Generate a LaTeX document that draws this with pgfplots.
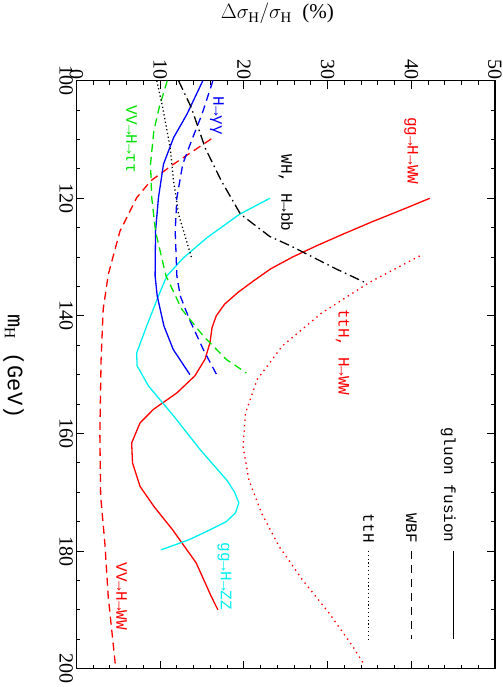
\documentclass[border=0pt]{standalone}
\usepackage{pgfplots}
\pgfplotsset{compat=1.18}
\usepackage{fontspec}
\setmainfont{Liberation Serif}
\newfontfamily\cour{Liberation Mono}
\definecolor{lgreen}{RGB}{0,225,0}
\definecolor{lcyan}{RGB}{0,240,240}
\tikzset{clab/.style={font=\cour\fontsize{16}{18}\selectfont, inner sep=0pt}}
\begin{document}
\rotatebox{-90}{%
\begin{tikzpicture}
\begin{axis}[
  width=587pt, height=418pt, scale only axis,
  xmin=100, xmax=200, ymin=0, ymax=50,
  xtick={100,120,...,200}, ytick={0,10,...,50},
  minor x tick num=3, minor y tick num=4,
  tick align=inside, xtick pos=both, ytick pos=both,
  xticklabel pos=lower, yticklabel pos=left,
  major tick length=8pt, minor tick length=4pt,
  every tick/.style={black, line width=0.9pt},
  axis line style={line width=1.3pt},
  ticklabel style={font=\fontsize{20}{22}\selectfont},
  /pgf/number format/assume math mode=true,
  yticklabel style={inner sep=1pt},
  xlabel={\cour m$_{\mathrm{H}}$ (GeV)},
  xlabel style={at={(axis description cs:0.486,-0.15)}, anchor=center, font=\fontsize{22}{24}\selectfont},
  ylabel={$\Delta\sigma_{\mathrm{H}}/\sigma_{\mathrm{H}}$~~(\%)},
  ylabel style={at={(axis description cs:-0.114,0.48)}, anchor=center, font=\fontsize{21}{24}\selectfont},
  every axis plot/.append style={line width=1.3pt},
]
% gg -> H -> WW
\addplot[red] coordinates {
 (120,42.2)(122,38.8)(124,35.3)(126,32)(128,28.8)(130,25.8)(132,23.2)(134,21.2)
 (136,19.3)(138,17.7)(140,16.7)(142,16.2)(144.6,15.95)(147.4,15.35)(150.2,14.15)
 (153.1,12.0)(155.9,9.2)(158.2,7.6)(161.6,6.6)(165,6.7)(169,7.6)(172.4,9.25)
 (176.4,11.5)(182,14.3)(187.7,16.1)(190,16.9)};
% ttH, H -> WW
\addplot[red, dash pattern=on 1.4pt off 4pt] coordinates {
 (129.8,41.0)(134.3,35.0)(139.5,29.3)(145.1,24.6)(150.8,21.6)(156.5,20.2)(162.2,19.9)
 (167.9,20.6)(173.5,22.1)(179.2,24.2)(184.9,27.0)(190.6,30.2)(196.2,33.0)(199.4,34.4)};
% VV -> H -> WW
\addplot[red, dash pattern=on 8pt off 5pt] coordinates {
 (109.9,16.1)(114.2,11.6)(117,8.9)(119.9,7.2)(125.6,5.2)(133,3.8)(138.9,3.2)(147.4,2.95)
 (160,2.8)(170.7,2.9)(178.7,3.4)(187.7,3.8)(200,4.7)};
% gg -> H -> ZZ
\addplot[lcyan] coordinates {
 (120,23.1)(122.7,19.5)(126.7,15.6)(130.1,12.8)(133.2,10.8)(136.6,9.8)(141.7,8.4)
 (146.3,7.2)(148.5,7.25)(151.9,8.6)(157,11.6)(162.7,14.75)(168,18.0)(170,18.9)
 (171.8,19.4)(173.5,19.0)(175,17.9)(176.5,15.8)(178.1,13.4)(179.8,10.1)};
% H -> gamma gamma (gluon fusion)
\addplot[blue] coordinates {
 (100,15.1)(105.7,13.2)(109.7,11.6)(114.2,10.4)(119.9,9.8)(125.6,9.45)(133.2,9.4)
 (136.6,9.65)(141.7,10.45)(145.7,11.56)(150,13.56)};
% H -> gamma gamma (WBF)
\addplot[blue, dash pattern=on 8pt off 5pt] coordinates {
 (100,16.3)(105.7,15.0)(110.2,13.75)(114.2,12.7)(119.9,12.0)(125.6,11.8)(133.2,12.0)
 (136.6,12.4)(140.6,13.5)(145.7,15.15)(150,16.75)};
% VV -> H -> tau tau
\addplot[lgreen, dash pattern=on 8pt off 5pt] coordinates {
 (100,10.85)(104.5,9.9)(108.5,9.25)(114.2,8.85)(119.9,9.0)(125.6,9.45)(133.2,10.7)
 (138.9,12.6)(143.4,15.15)(147.4,17.9)(149.7,20.3)};
% ttH, H -> bb
\addplot[black, dash pattern=on 1.2pt off 2.6pt] coordinates {
 (100,9.6)(104.5,10.3)(111.4,11.2)(117,11.6)(122.7,12.2)(130.1,13.75)};
% WH, H -> bb
\addplot[black, dash pattern=on 10pt off 4pt on 1.5pt off 4pt] coordinates {
 (100,12.2)(104.5,13.7)(111.5,15.4)(117,17.3)(122.7,19.6)(126.5,23.1)(128.1,25.6)
 (132,31.0)(134.4,34.6)};
% legend samples
\addplot[black] coordinates {(180,45.0)(195,45.0)};
\addplot[black, dash pattern=on 8pt off 6pt] coordinates {(180,40.0)(195,40.0)};
\addplot[black, dash pattern=on 1.2pt off 2.6pt] coordinates {(180,34.9)(195,34.9)};
\node[clab, anchor=east] at (axis cs:178.6,44.4) {gluon fusion};
\node[clab, anchor=east] at (axis cs:178.6,40.0) {WBF};
\node[clab, anchor=east] at (axis cs:178.6,34.9) {ttH};
% curve labels
\node[clab, red] at (axis cs:111.9,40.0) {gg→H→WW};
\node[clab, red] at (axis cs:146.2,31.8) {ttH, H→WW};
\node[clab, red] at (axis cs:187.7,5.4) {VV→H→WW};
\node[clab, lcyan] at (axis cs:184.3,17.7) {gg→H→ZZ};
\node[clab, black] at (axis cs:119.1,25.0) {WH, H→bb};
\node[clab, blue] at (axis cs:106,16.8) {H→γγ};
\node[clab, lgreen] at (axis cs:110,6.6) {VV→H→ττ};
\end{axis}
\end{tikzpicture}}
\end{document}
